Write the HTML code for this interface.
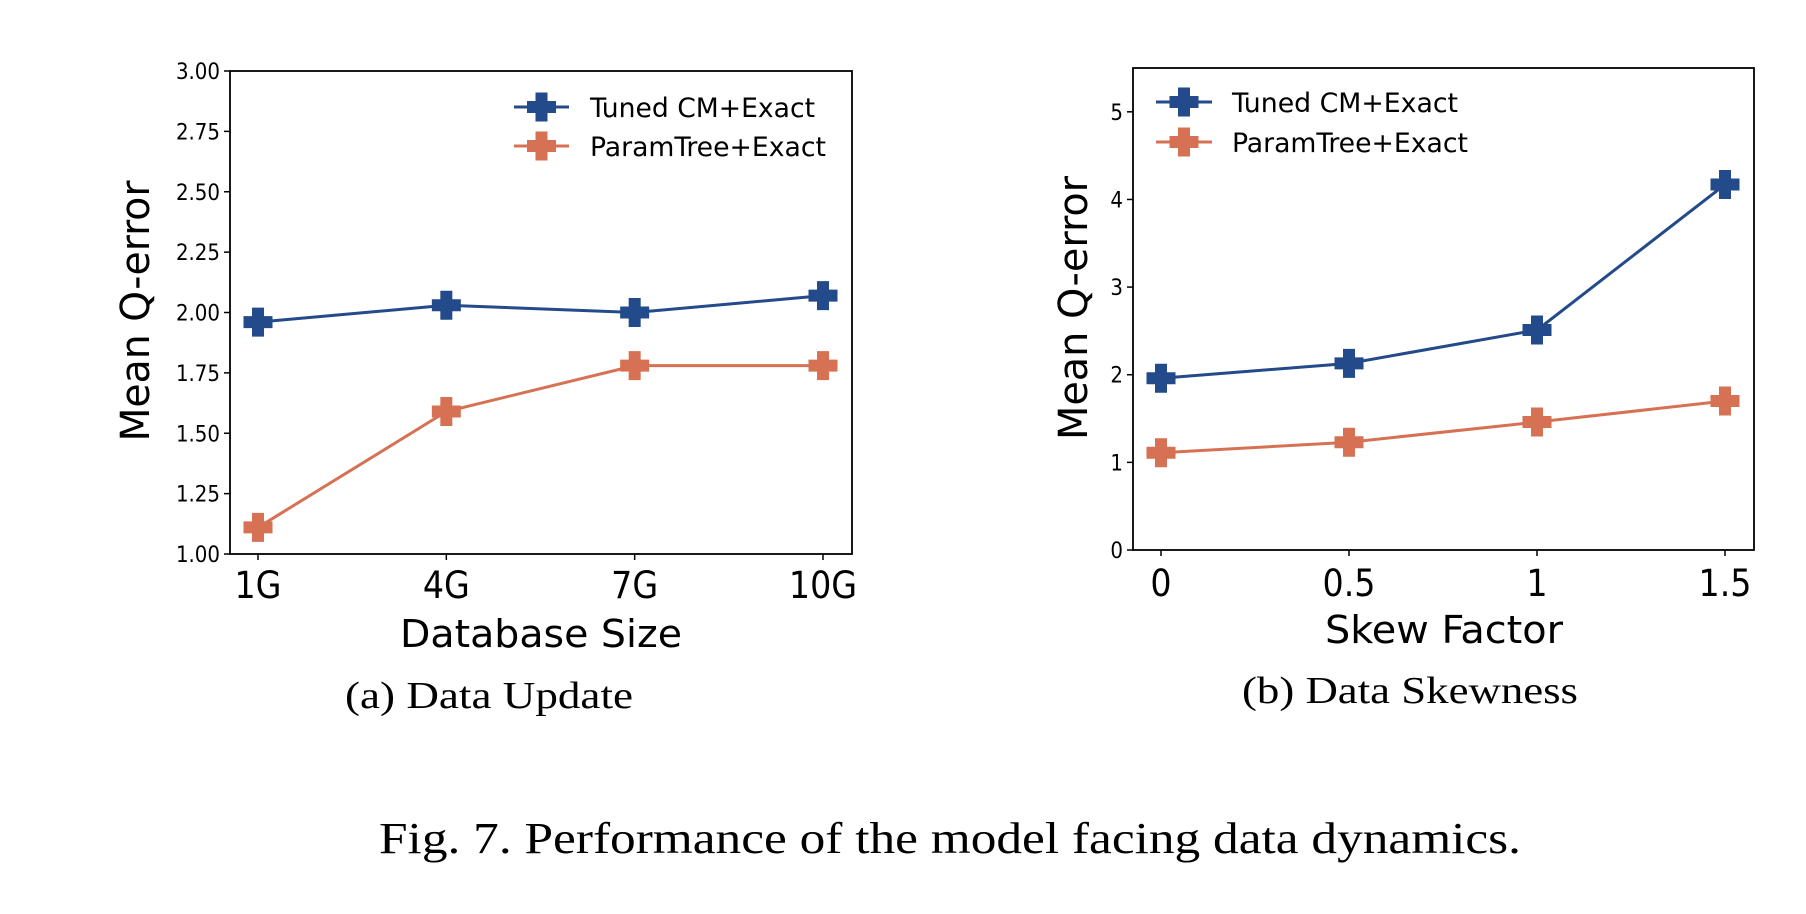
<!DOCTYPE html>
<html><head><meta charset="utf-8"><style>
html,body{margin:0;padding:0;background:#fff;}
svg{display:block;}
.tk{font-family:"DejaVu Sans","Liberation Sans",sans-serif;font-stretch:condensed;}
.sf{font-family:"Liberation Serif",serif;}
</style></head><body>
<svg id="fig" width="1806" height="914" viewBox="0 0 1806 914" xmlns="http://www.w3.org/2000/svg">
<text class="sf" x="345" y="708" font-size="38" textLength="288" lengthAdjust="spacingAndGlyphs">(a)  Data Update</text>
<text class="sf" x="1242" y="703" font-size="38" textLength="336" lengthAdjust="spacingAndGlyphs">(b)  Data Skewness</text>
<text class="sf" x="379" y="853" font-size="44" textLength="1142" lengthAdjust="spacingAndGlyphs">Fig. 7.  Performance of the model facing data dynamics.</text>
</svg>
<script>
const catsA = ["1G","4G","7G","10G"];
const tunedA = [1.96,2.03,2.00,2.07];
const paramA = [1.11,1.59,1.78,1.78];
const yTicksA = [1.00,1.25,1.50,1.75,2.00,2.25,2.50,2.75,3.00];
const yTickLabelsA = ["1.00","1.25","1.50","1.75","2.00","2.25","2.50","2.75","3.00"];
const catsB = ["0","0.5","1","1.5"];
const tunedB = [1.96,2.13,2.51,4.17];
const paramB = [1.11,1.23,1.46,1.70];
const yTicksB = [0,1,2,3,4,5];
const yTickLabelsB = ["0","1","2","3","4","5"];

const NS="http://www.w3.org/2000/svg";
const svg=document.getElementById('fig');
const BLUE="#234a8a", ORANGE="#d67153";
function mk(tag,attrs,parent){const e=document.createElementNS(NS,tag);for(const k in attrs)e.setAttribute(k,attrs[k]);(parent||svg).appendChild(e);return e;}
function plus(g,cx,cy,color){
  const p=mk('path',{d:`M${cx-5.5},${cy-14}h11v8.5h8.5v11h-8.5v8.5h-11v-8.5h-8.5v-11h8.5z`,fill:color,stroke:color,'stroke-width':1},g);
  return p;
}
function panel(o){
  const g=mk('g',{});
  
  
  const n=o.cats.length;
  const xs=i=>o.x0+(o.x1-o.x0)*i/(n-1);
  const ys=v=>o.bot-(v-o.ymin)/(o.ymax-o.ymin)*(o.bot-o.top);
  // ticks
  o.yTicks.forEach((t,i)=>{
    const y=ys(t);
    mk('line',{x1:o.L-6,x2:o.L,y1:y,y2:y,stroke:'#000','stroke-width':1.5},g);
    const tx=mk('text',{x:o.L-10,y:y+8,'font-size':22,'text-anchor':'end',class:'tk'},g);
    tx.textContent=o.yLabels[i];
    
    
  });
  o.cats.forEach((c,i)=>{
    const x=xs(i);
    mk('line',{x1:x,x2:x,y1:o.bot,y2:o.bot+6,stroke:'#000','stroke-width':1.5},g);
    const tx=mk('text',{x:x,y:o.tickBase,'font-size':37,'text-anchor':'middle',class:'tk'},g);
    tx.textContent=c;
    
    
  });
  // series
  [[o.tuned,BLUE,'tuned-cm-exact'],[o.param,ORANGE,'paramtree-exact']].forEach(([vals,col,nm])=>{
    const sg=mk('g',{},g);
    
    
    const pl=mk('polyline',{points:vals.map((v,i)=>xs(i)+','+ys(v)).join(' '),fill:'none',stroke:col,'stroke-width':3},sg);
    
    
    vals.forEach((v,i)=>{
      const m=plus(sg,xs(i),ys(v),col);
      
      
    });
  });
  // frame
  const fr=mk('rect',{x:o.L,y:o.top,width:o.R-o.L,height:o.bot-o.top,fill:'none',stroke:'#000','stroke-width':1.8},g);
  
  
  // legend
  const lg=mk('g',{},g);
  
  
  [[BLUE,'Tuned CM+Exact',o.lg.y1,o.lg.w1],[ORANGE,'ParamTree+Exact',o.lg.y2,o.lg.w2]].forEach(([col,label,y,w])=>{
    const e=mk('g',{},lg);
    
    
    mk('line',{x1:o.lg.x1,x2:o.lg.x2,y1:y,y2:y,stroke:col,'stroke-width':3},e);
    plus(e,(o.lg.x1+o.lg.x2)/2,y,col);
    const t=mk('text',{x:o.lg.tx,y:y+10,'font-size':27,class:'tk',textLength:w,lengthAdjust:'spacingAndGlyphs'},e);
    t.textContent=label;
  });
  // axis labels
  const xl=mk('text',{x:o.xl.x,y:o.xl.y,'font-size':38,class:'tk',textLength:o.xl.w,lengthAdjust:'spacingAndGlyphs'},g);
  xl.textContent=o.xlabel;
  
  
  const yl=mk('text',{x:0,y:0,'font-size':40,'text-anchor':'middle',class:'tk',transform:`translate(${o.yl.x},${o.yl.y}) rotate(-90)`,textLength:o.yl.w,lengthAdjust:'spacingAndGlyphs'},g);
  yl.textContent='Mean Q-error';
  
  
}
panel({name:'chart-data-update',cats:catsA,tuned:tunedA,param:paramA,yTicks:yTicksA,yLabels:yTickLabelsA,
  L:230,R:852,top:71,bot:554,x0:258,x1:823,ymin:1,ymax:3,tickBase:598,
  lg:{x1:514,x2:569,y1:107,y2:146,tx:590,w1:225,w2:236},
  xlabel:'Database Size',xl:{x:400,y:647,w:282},yl:{x:149,y:311,w:261}});
panel({name:'chart-data-skewness',cats:catsB,tuned:tunedB,param:paramB,yTicks:yTicksB,yLabels:yTickLabelsB,
  L:1133,R:1754,top:68,bot:550,x0:1161,x1:1725,ymin:0,ymax:5.5,tickBase:596,
  lg:{x1:1156,x2:1212,y1:102,y2:142,tx:1232,w1:226,w2:236},
  xlabel:'Skew Factor',xl:{x:1325,y:643,w:238},yl:{x:1087,y:308,w:264}});
</script>
</body></html>
